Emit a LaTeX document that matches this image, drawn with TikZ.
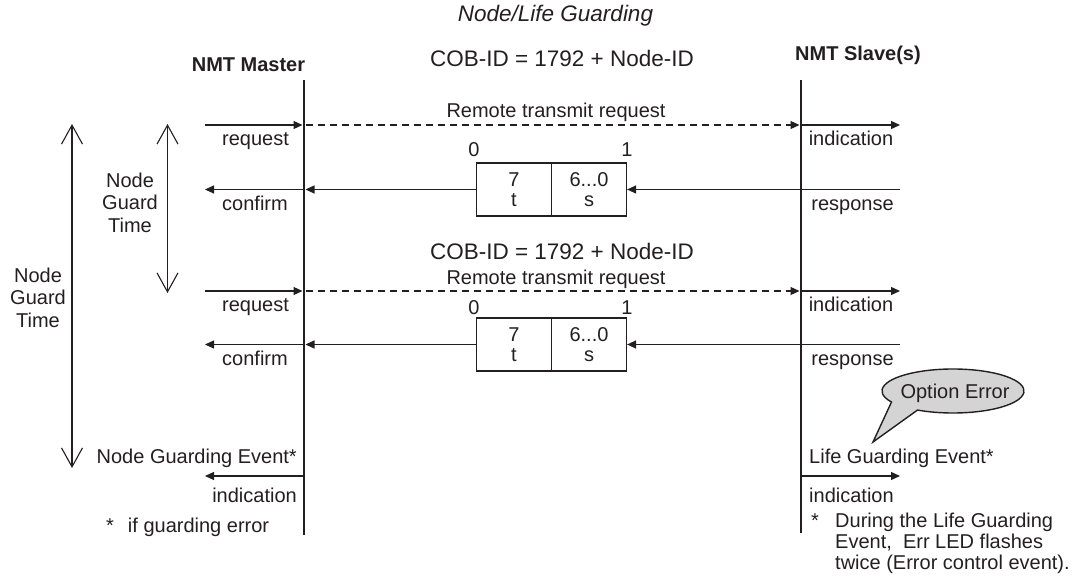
\documentclass[tikz,border=0pt]{standalone}
\usepackage{fontspec}
\setmainfont{Liberation Sans}
\usetikzlibrary{arrows.meta}
\definecolor{ink}{RGB}{35,31,32}
\definecolor{bubble}{RGB}{212,212,212}
\tikzset{
  txt/.style={inner sep=0pt, font=\fontsize{20}{22.5}\selectfont, text=ink},
  big/.style={inner sep=0pt, font=\fontsize{22.5}{26}\selectfont, text=ink},
  hdr/.style={inner sep=0pt, font=\fontsize{20}{22.5}\selectfont\bfseries, text=ink},
  msg/.style={draw=ink, line width=1.2pt, -{Triangle[length=9pt,width=8pt]}},
  rtr/.style={msg, dash pattern=on 7pt off 5pt},
  lifeline/.style={draw=ink, line width=2.6pt},
  span/.style={draw=ink, line width=1.1pt,
    {Straight Barb[length=19pt,width=21pt,line width=1.1pt]}-{Straight Barb[length=19pt,width=21pt,line width=1.1pt]}},
  field/.style={draw=ink, line width=1.2pt, minimum width=75pt, minimum height=53pt,
    inner sep=0pt, align=center, font=\fontsize{20}{20}\selectfont, text=ink},
}
\begin{document}
\begin{tikzpicture}[x=1pt,y=-1pt]
\useasboundingbox (0,0) rectangle (1076,577);

% title and headers
\node[txt, font=\fontsize{22.5}{26}\selectfont\itshape, anchor=base] (title) at (555.5,22) {Node/Life Guarding};
\node[hdr, anchor=base] (master) at (248.5,72) {NMT Master};
\node[hdr, anchor=base] (slave) at (858,61) {NMT Slave(s)};
\node[big, anchor=base] (cob1) at (562,67) {COB-ID = 1792 + Node-ID};

% lifelines
\coordinate (mtop) at (304,80);
\coordinate (mbot) at (304,535);
\coordinate (stop) at (801,80);
\coordinate (sbot) at (801,533);
\draw[lifeline] (mtop) -- (mbot);
\draw[lifeline] (stop) -- (sbot);

% guard time spans
\coordinate (o1) at (72,124);
\coordinate (o2) at (72,468);
\coordinate (i1) at (167.5,124);
\coordinate (i2) at (167.5,293);
\draw[span] (o1) -- (o2);
\draw[span] (i1) -- (i2);
\node[txt, align=center] (outerlbl) at (38,297.5) {Node\\Guard\\Time};
\node[txt, align=center] (innerlbl) at (130,202.5) {Node\\Guard\\Time};

% ---------- row 1 ----------
\coordinate (q1a) at (205,125);
\coordinate (q1m) at (302.5,125);
\coordinate (q1ms) at (305.5,125);
\coordinate (q1s) at (799.5,125);
\coordinate (q1ss) at (802,125);
\coordinate (q1b) at (900,125);
\draw[msg] (q1a) -- (q1m);
\draw[rtr] (q1ms) -- (q1s);
\draw[msg] (q1ss) -- (q1b);
\node[txt, anchor=base] (rtr1) at (556,118) {Remote transmit request};
\node[txt, anchor=base] (req1) at (255.5,146) {request};
\node[txt, anchor=base] (ind1) at (851,146) {indication};

\node[txt, anchor=base] (zero1) at (474,157) {0};
\node[txt, anchor=base] (one1) at (627,157) {1};
\node[field] (fa1) at (514,189.5) {7\\t};
\node[field] (fb1) at (589,189.5) {6...0\\s};
\coordinate (c1b) at (900,189.5);
\coordinate (c1m) at (305.5,189.5);
\coordinate (c1mm) at (303,189.5);
\coordinate (c1a) at (205,189.5);
\draw[msg] (c1b) -- (fb1.east);
\draw[msg] (fa1.west) -- (c1m);
\draw[msg] (c1mm) -- (c1a);
\node[txt, anchor=base] (conf1) at (255,210.5) {confirm};
\node[txt, anchor=base] (resp1) at (852.5,210.5) {response};

% ---------- row 2 ----------
\node[big, anchor=base] (cob2) at (562,260) {COB-ID = 1792 + Node-ID};
\coordinate (q2a) at (205,291);
\coordinate (q2m) at (302.5,291);
\coordinate (q2ms) at (305.5,291);
\coordinate (q2s) at (799.5,291);
\coordinate (q2ss) at (802,291);
\coordinate (q2b) at (900,291);
\draw[msg] (q2a) -- (q2m);
\draw[rtr] (q2ms) -- (q2s);
\draw[msg] (q2ss) -- (q2b);
\node[txt, anchor=base] (rtr2) at (556,284) {Remote transmit request};
\node[txt, anchor=base] (req2) at (255.5,312) {request};
\node[txt, anchor=base] (ind2) at (851,312) {indication};

\node[txt, anchor=base] (zero2) at (474,315) {0};
\node[txt, anchor=base] (one2) at (627,315) {1};
\node[field] (fa2) at (514,344.5) {7\\t};
\node[field] (fb2) at (589,344.5) {6...0\\s};
\coordinate (c2b) at (900,344.5);
\coordinate (c2m) at (305.5,344.5);
\coordinate (c2mm) at (303,344.5);
\coordinate (c2a) at (205,344.5);
\draw[msg] (c2b) -- (fb2.east);
\draw[msg] (fa2.west) -- (c2m);
\draw[msg] (c2mm) -- (c2a);
\node[txt, anchor=base] (conf2) at (255,365.5) {confirm};
\node[txt, anchor=base] (resp2) at (852.5,365.5) {response};

% ---------- guarding events ----------
\node[txt, anchor=base east] (nge) at (297,463) {Node Guarding Event*};
\coordinate (e1m) at (303,476);
\coordinate (e1a) at (205,476);
\draw[msg] (e1m) -- (e1a);
\node[txt, anchor=base east] (ind3) at (297,502) {indication};
\node[txt, anchor=base west] (note1) at (106,532) {*\hspace{14pt}if guarding error};

\node[txt, anchor=base west] (lge) at (809,463) {Life Guarding Event*};
\coordinate (e2s) at (802,476);
\coordinate (e2b) at (900,476);
\draw[msg] (e2s) -- (e2b);
\node[txt, anchor=base west] (ind4) at (809,502) {indication};
\node[txt, anchor=base] (star2) at (815,527) {*};
\node[txt, anchor=north west, align=left, font=\fontsize{20}{21}\selectfont] (note2) at (835,512.5)
  {During the Life Guarding\\Event,\ \ Err LED flashes\\twice (Error control event).};

% callout
\coordinate (tip) at (873,442);
\draw[draw=ink, line width=1.4pt, fill=bubble]
  (891.5,402) arc[start angle=150, end angle=480, x radius=71, y radius=22] -- (tip) -- cycle;
\node[txt, anchor=base] (opt) at (955,398) {Option Error};
\end{tikzpicture}
\end{document}
